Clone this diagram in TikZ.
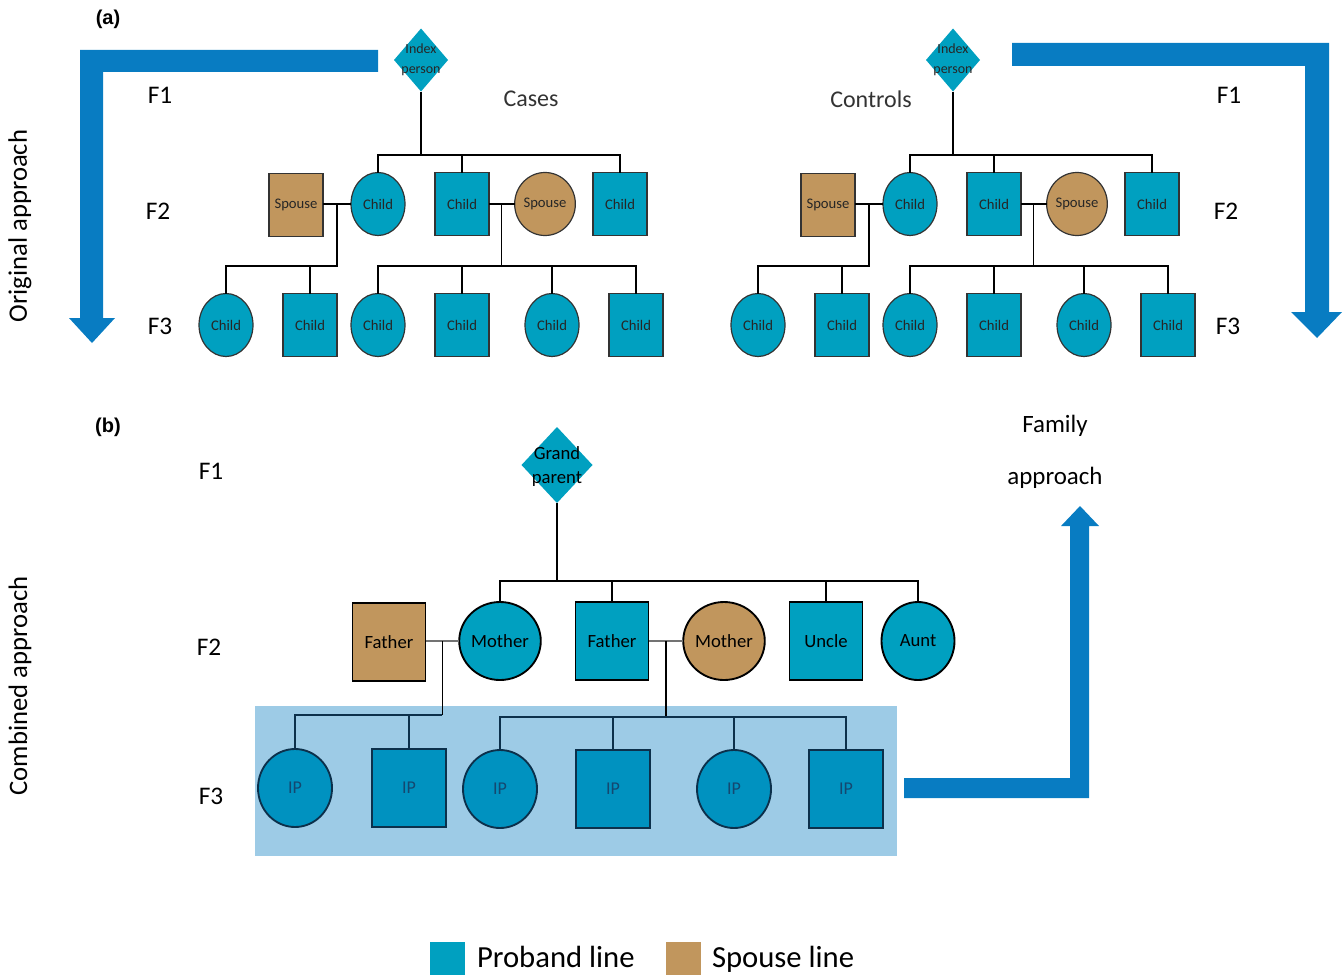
\documentclass[tikz,border=0pt]{standalone}
\usepackage{fontspec}
\setmainfont{Carlito}
\newfontfamily\arialfont{Liberation Sans}
\usetikzlibrary{shapes.geometric,calc}

\definecolor{teal1}{RGB}{0,160,192}
\definecolor{tan1}{RGB}{193,150,93}
\definecolor{arrowblue}{RGB}{8,124,194}
\definecolor{boxblue}{RGB}{157,203,230}
\definecolor{ipfill}{RGB}{0,146,192}
\definecolor{ipline}{RGB}{12,48,75}
\definecolor{iptext}{RGB}{20,72,112}

\newcommand\pedtree[2]{%
\begin{scope}[shift={(#2,0)}]
\node[idx, label={[idxtxt]center:{Index\\person}}] (#1ix) at (421,60) {};
\node[ssqA] (#1s1) at (296,205) {Spouse};
\node[ciA]  (#1c1) at (378,204) {Child};
\node[sqA]  (#1c2) at (462,204) {Child};
\node[sciA] (#1s2) at (545,204) {Spouse};
\node[sqA]  (#1c3) at (620,204) {Child};
\node[ciA]  (#1g1) at (226,325) {Child};
\node[sqA]  (#1g2) at (310,325) {Child};
\node[ciA]  (#1g3) at (378,325) {Child};
\node[sqA]  (#1g4) at (462,325) {Child};
\node[ciA]  (#1g5) at (552,325) {Child};
\node[sqA]  (#1g6) at (636,325) {Child};
\coordinate (#1b0) at (421,155);
\coordinate (#1b1) at (421,266);
\draw[lnA] (#1ix.south) -- (#1b0);
\draw[lnA] (#1c1.north) -- (#1c1.north |- #1b0) -- (#1c3.north |- #1b0) -- (#1c3.north);
\draw[lnA] (#1c2.north) -- (#1c2.north |- #1b0);
\draw[lnA] (#1s1.east |- #1c1.west) -- (#1c1.west);
\coordinate (#1m1) at ($(#1s1.east |- #1c1.west)!0.5!(#1c1.west)$);
\draw[lnA] (#1m1) -- (#1m1 |- #1b1) -- (#1g1.north |- #1b1) -- (#1g1.north);
\draw[lnA] (#1g2.north) -- (#1g2.north |- #1b1);
\draw[lnA] (#1c2.east) -- (#1s2.west);
\coordinate (#1m2) at ($(#1c2.east)!0.5!(#1s2.west)$);
\draw[lnA] (#1m2) -- (#1m2 |- #1b1);
\draw[lnA] (#1g3.north) -- (#1g3.north |- #1b1) -- (#1g6.north |- #1b1) -- (#1g6.north);
\draw[lnA] (#1g4.north) -- (#1g4.north |- #1b1);
\draw[lnA] (#1g5.north) -- (#1g5.north |- #1b1);
\end{scope}}

\begin{document}
\begin{tikzpicture}[x=0.75pt,y=-0.75pt,
  every node/.style={inner sep=0pt, outer sep=0pt},
  nA/.style={draw=black!80, line width=0.9pt, minimum width=40.5pt, minimum height=47.25pt, font=\fontsize{11}{12}\selectfont, text=black!85},
  sqA/.style={nA, rectangle, fill=teal1},
  ciA/.style={nA, ellipse, fill=teal1},
  ssqA/.style={nA, rectangle, fill=tan1},
  sciA/.style={nA, ellipse, fill=tan1},
  idx/.style={diamond, fill=teal1, minimum width=40.5pt, minimum height=47.25pt},
  idxtxt/.style={font=\fontsize{10.5}{15}\selectfont, align=center, text=black!85},
  lnA/.style={draw=black, line width=0.8pt},
  gen/.style={font=\fontsize{19}{22}\selectfont},
  nB/.style={draw=black, line width=1.4pt, minimum width=54.75pt, minimum height=58.5pt, font=\fontsize{14}{16}\selectfont},
  sqB/.style={nB, rectangle, fill=teal1},
  ciB/.style={nB, ellipse, fill=teal1},
  ssqB/.style={nB, rectangle, fill=tan1},
  sciB/.style={nB, ellipse, fill=tan1},
  ipn/.style={draw=ipline, line width=1.4pt, fill=ipfill, minimum width=55.5pt, minimum height=58.5pt, font=\fontsize{13.5}{15}\selectfont, text=iptext},
  ipsq/.style={ipn, rectangle},
  ipci/.style={ipn, ellipse},
  lnB/.style={draw=black, line width=1.1pt},
  cpB/.style={draw=black!55, line width=1.3pt},
  lnIP/.style={draw=ipline, line width=0.9pt},
  legsq/.style={minimum width=26.25pt, minimum height=25.5pt},
  legtxt/.style={font=\fontsize{23}{26}\selectfont, anchor=base west},
  paneltag/.style={font=\arialfont\bfseries\fontsize{15}{17}\selectfont}
]
\useasboundingbox (0,0) rectangle (1344,974);

% ---------- panel (a) ----------
\node[paneltag] (la) at (108,19) {(a)};

\fill[arrowblue] (378,50) -- (80,50) -- (80,318) -- (69,318) -- (92,343) -- (115,318) -- (103,318) -- (103,72) -- (378,72) -- cycle;
\fill[arrowblue] (1012,43) -- (1329,43) -- (1329,312) -- (1342,312) -- (1317,338) -- (1291,312) -- (1305,312) -- (1305,66) -- (1012,66) -- cycle;

\node[rotate=90, font=\fontsize{20}{22}\selectfont] (orig) at (20,226) {Original approach};

\node[gen] (lf1) at (160,95) {F1};
\node[gen] (lf2) at (158,211) {F2};
\node[gen] (lf3) at (160,326) {F3};
\node[gen] (rf1) at (1229,95) {F1};
\node[gen] (rf2) at (1226,211) {F2};
\node[gen] (rf3) at (1228,326) {F3};

\node[font=\fontsize{18}{20}\selectfont, text=black!80] (cases) at (531,99) {Cases};
\node[font=\fontsize{18}{20}\selectfont, text=black!80] (controls) at (871,99) {Controls};

\pedtree{L}{0}
\pedtree{R}{532}

% ---------- panel (b) ----------
\node[paneltag] (lb) at (108,427) {(b)};
\node[rotate=90, font=\fontsize{20}{22}\selectfont] (comb) at (20,686) {Combined approach};

\node[gen] (bf1) at (211,471) {F1};
\node[gen] (bf2) at (209,647) {F2};
\node[gen] (bf3) at (211,796) {F3};

\fill[boxblue] (255,706) rectangle (897,856);

\fill[arrowblue] (904,778) -- (1070,778) -- (1070,526) -- (1061,526) -- (1080,506) -- (1099,526) -- (1089,526) -- (1089,798) -- (904,798) -- cycle;
\node[font=\fontsize{18.7}{39}\selectfont, align=center] (fam) at (1055,452) {Family\\approach};

\node[diamond, fill=teal1, minimum width=53.25pt, minimum height=57pt,
  label={[font=\fontsize{14}{18}\selectfont, align=center, yshift=-1.5pt]center:{Grand\\parent}}] (gp) at (557,465) {};

\node[ssqB] (fa1) at (389,642) {Father};
\node[ciB]  (mo1) at (500,641) {Mother};
\node[sqB]  (fa2) at (612,641) {Father};
\node[sciB] (mo2) at (724,641) {Mother};
\node[sqB]  (un)  at (826,641) {Uncle};
\node[ciB]  (au)  at (918,641) {Aunt};

\coordinate (bb0) at (557,581);
\draw[lnB] (gp.south) -- (bb0);
\draw[lnB] (mo1.north) -- (mo1.north |- bb0) -- (au.north |- bb0) -- (au.north);
\draw[lnB] (fa2.north) -- (fa2.north |- bb0);
\draw[lnB] (un.north) -- (un.north |- bb0);

\node[ipci] (ip1) at (295,788) {IP};
\node[ipsq] (ip2) at (409,788) {IP};
\node[ipci] (ip3) at (500,789) {IP};
\node[ipsq] (ip4) at (613,789) {IP};
\node[ipci] (ip5) at (734,789) {IP};
\node[ipsq] (ip6) at (846,789) {IP};

\coordinate (bb1) at (443,715);
\coordinate (bb2) at (668,717);
\draw[cpB] (fa1.east |- mo1.west) -- (mo1.west);
\coordinate (bm1) at ($(fa1.east |- mo1.west)!0.5!(mo1.west)$);
\draw[lnB] (bm1) -- (bm1 |- bb1);
\draw[lnIP] (bm1 |- bb1) -- (ip1.north |- bb1) -- (ip1.north);
\draw[lnIP] (ip2.north) -- (ip2.north |- bb1);
\draw[cpB] (fa2.east) -- (mo2.west);
\coordinate (bm2) at ($(fa2.east)!0.5!(mo2.west)$);
\draw[lnB] (bm2) -- (bm2 |- bb2);
\draw[lnIP] (ip3.north) -- (ip3.north |- bb2) -- (ip6.north |- bb2) -- (ip6.north);
\draw[lnIP] (ip4.north) -- (ip4.north |- bb2);
\draw[lnIP] (ip5.north) -- (ip5.north |- bb2);

% ---------- legend ----------
\node[legsq, fill=teal1] (lg1) at (447.5,959) {};
\node[legtxt] (lt1) at (477,967) {Proband line};
\node[legsq, fill=tan1] (lg2) at (683.5,959) {};
\node[legtxt] (lt2) at (712,967) {Spouse line};
\end{tikzpicture}
\end{document}
